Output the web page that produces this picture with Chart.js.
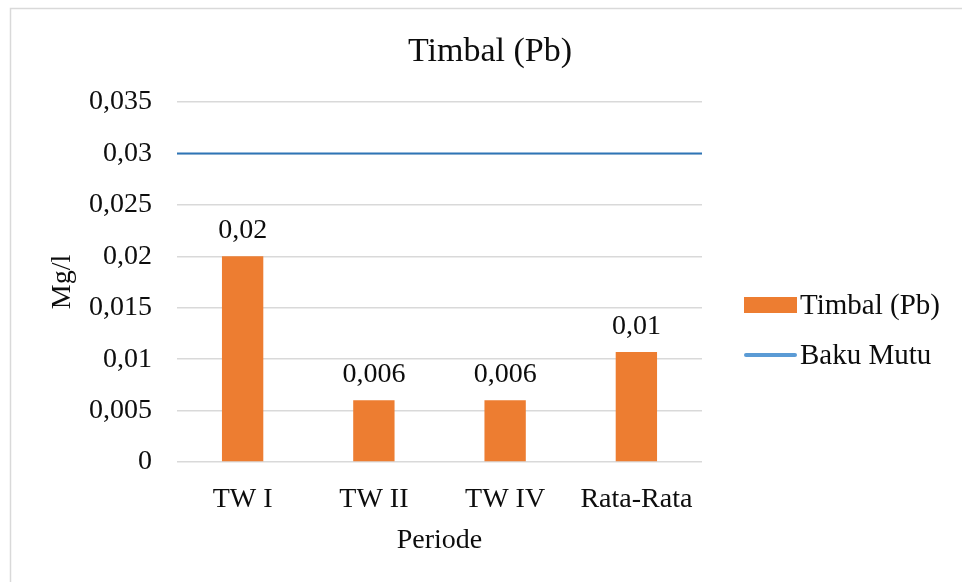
<!DOCTYPE html>
<html>
<head>
<meta charset="utf-8">
<script src="https://cdn.jsdelivr.net/npm/chart.js@4/dist/chart.umd.min.js"></script>
<style>
  html, body { margin: 0; padding: 0; background: #fff; }
  canvas { display: block; }
</style>
</head>
<body>
<canvas id="chart" width="962" height="582"></canvas>
<script>
// Lead (Pb) concentration per period, with the quality standard line
const categories = ['TW I', 'TW II', 'TW IV', 'Rata-Rata'];
const timbalValues = [0.02, 0.006, 0.006, 0.0107];
const bakuMutu = 0.03;
const yMin = 0;
const yMax = 0.035;
const yStep = 0.005;

const chartTitle = 'Timbal (Pb)';
const xTitle = 'Periode';
const yTitle = 'Mg/l';

const FONT = '"Liberation Serif", "Times New Roman", serif';
const TEXT = '#0d0d0d';
const FS = 28;

const commaNum = v => String(v).replace('.', ',');

// frame around the whole chart
const framePlugin = {
  id: 'frame',
  beforeDraw(chart) {
    const ctx = chart.ctx;
    ctx.save();
    ctx.fillStyle = '#fff';
    ctx.fillRect(0, 0, chart.width, chart.height);
    ctx.strokeStyle = '#d9d9d9';
    ctx.lineWidth = 1.5;
    ctx.strokeRect(10.5, 8.5, chart.width + 10, chart.height + 10);
    ctx.restore();
  }
};

// chart title
const titlePlugin = {
  id: 'topTitle',
  afterDraw(chart) {
    const ctx = chart.ctx;
    ctx.save();
    ctx.font = '34px ' + FONT;
    ctx.fillStyle = TEXT;
    ctx.textAlign = 'center';
    ctx.textBaseline = 'middle';
    ctx.fillText(chartTitle, 490, 52);
    ctx.restore();
  }
};

// value labels above each bar
const barLabelPlugin = {
  id: 'barLabels',
  afterDatasetsDraw(chart) {
    const ctx = chart.ctx;
    const meta = chart.getDatasetMeta(0);
    const values = chart.data.datasets[0].data;
    ctx.save();
    ctx.font = FS + 'px ' + FONT;
    ctx.fillStyle = TEXT;
    ctx.textAlign = 'center';
    ctx.textBaseline = 'alphabetic';
    meta.data.forEach((bar, i) => {
      const txt = commaNum(Number(values[i]).toPrecision(1));
      ctx.fillText(txt, bar.x, bar.y - 18);
    });
    ctx.restore();
  }
};

// legend on the right side
const sideLegendPlugin = {
  id: 'sideLegend',
  afterDraw(chart) {
    const ctx = chart.ctx;
    const ds = chart.data.datasets;
    const x0 = 744, w = 53, tx = 800;
    ctx.save();
    ctx.font = '29px ' + FONT;
    ctx.textBaseline = 'middle';
    ctx.textAlign = 'left';
    // bar series
    let cy = 305;
    ctx.fillStyle = ds[0].backgroundColor;
    ctx.fillRect(x0, cy - 8, w, 16);
    ctx.fillStyle = TEXT;
    ctx.fillText(ds[0].label, tx, cy + 1);
    // line series
    cy = 355;
    ctx.strokeStyle = ds[1].legendColor;
    ctx.lineWidth = 4;
    ctx.lineCap = 'round';
    ctx.beginPath();
    ctx.moveTo(x0 + 2, cy);
    ctx.lineTo(x0 + w - 2, cy);
    ctx.stroke();
    ctx.fillText(ds[1].label, tx, cy + 1);
    ctx.restore();
  }
};

Chart.defaults.font.family = FONT;
Chart.defaults.font.size = FS;
Chart.defaults.color = TEXT;

new Chart(document.getElementById('chart'), {
  type: 'bar',
  data: {
    labels: categories,
    datasets: [
      {
        label: 'Timbal (Pb)',
        data: timbalValues,
        backgroundColor: '#ED7D31',
        borderWidth: 0,
        grouped: false,
        categoryPercentage: 1,
        barPercentage: 0.315,
        xAxisID: 'x',
        order: 2
      },
      {
        type: 'line',
        label: 'Baku Mutu',
        data: [{ x: 0, y: bakuMutu }, { x: 1, y: bakuMutu }],
        borderColor: '#2E75B6',
        legendColor: '#5B9BD5',
        borderWidth: 2,
        pointRadius: 0,
        fill: false,
        xAxisID: 'xLine',
        order: 1
      }
    ]
  },
  options: {
    responsive: false,
    animation: false,
    devicePixelRatio: 1,
    layout: { padding: { left: 10, top: 102, right: 260, bottom: 0 } },
    plugins: {
      legend: { display: false },
      title: { display: false },
      tooltip: { enabled: false }
    },
    scales: {
      x: {
        type: 'category',
        offset: true,
        grid: { display: false, drawTicks: false },
        border: { display: false },
        ticks: { padding: 21, font: { size: FS }, color: TEXT, maxRotation: 0 },
        title: { display: true, text: xTitle, font: { size: FS }, color: TEXT, padding: { top: 0, bottom: 25 } },
        afterFit(scale) { scale.height = 120; }
      },
      xLine: {
        type: 'linear',
        display: false,
        offset: false,
        min: 0,
        max: 1
      },
      y: {
        type: 'linear',
        min: yMin,
        max: yMax,
        ticks: {
          stepSize: yStep,
          padding: 25,
          font: { size: FS },
          color: TEXT,
          callback: v => commaNum(Number(v.toFixed(3)))
        },
        grid: { color: '#d9d9d9', lineWidth: 1.5, drawTicks: false },
        border: { display: false },
        title: { display: true, text: yTitle, font: { size: FS }, color: TEXT, padding: { top: 36, bottom: 0 } },
        afterFit(scale) { scale.width = 167; }
      }
    }
  },
  plugins: [framePlugin, titlePlugin, barLabelPlugin, sideLegendPlugin]
});
</script>
</body>
</html>
